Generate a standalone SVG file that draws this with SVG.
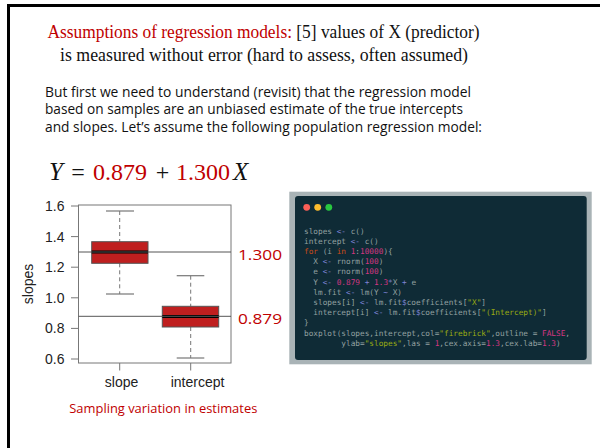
<svg xmlns="http://www.w3.org/2000/svg" width="600" height="448" viewBox="0 0 600 448">
<style>
.ttl{font-family:"Liberation Serif",serif;font-size:18px;fill:#111}
.par{font-family:"Open Sans","Liberation Sans",sans-serif;font-size:14.3px;fill:#111}
.eq{font-family:"Liberation Serif",serif;font-size:24px;fill:#111}
.eqi{font-family:"Liberation Serif",serif;font-style:italic;font-size:25px;fill:#111}
.ax{font-family:"Liberation Sans",Arial,sans-serif;font-size:14px;fill:#222}
.lab{font-family:"Open Sans","Liberation Sans",sans-serif;font-size:15px;fill:#c00000}
.cap{font-family:"Open Sans","Liberation Sans",sans-serif;font-size:12.4px;fill:#c00000}
.red{fill:#c00000}
.axl{stroke:#777;stroke-width:1;fill:none}
.box{fill:#bf1f1f;stroke:#555;stroke-width:1}
.med{stroke:#000;stroke-width:3}
.wh{stroke:#777;stroke-width:1;stroke-dasharray:4,3}
.capl{stroke:#777;stroke-width:1.2}
.ref{stroke:#555;stroke-width:1}
.code{font-family:"DejaVu Sans Mono","Liberation Mono",monospace;font-size:7.75px;fill:#93a1a1;white-space:pre}
.op{fill:#7f84d6}
.num{fill:#d33682}
.str{fill:#9aab12}
.kw{fill:#cb4b16}
</style>
<!-- page border -->
<path d="M8.5,448 V5.5 H600" fill="none" stroke="#000" stroke-width="3"/>

<g id="title">
<text class="ttl" x="263.5" y="38" text-anchor="middle" textLength="432" lengthAdjust="spacingAndGlyphs"><tspan class="red">Assumptions of regression models:</tspan> [5] values of X (predictor)</text>
<text class="ttl" x="264" y="61" text-anchor="middle" textLength="408" lengthAdjust="spacingAndGlyphs">is measured without error (hard to assess, often assumed)</text>
</g>

<g id="paragraph">
<text class="par" x="45" y="96.5" textLength="426" lengthAdjust="spacingAndGlyphs">But first we need to understand (revisit) that the regression model</text>
<text class="par" x="45" y="114.3" textLength="418" lengthAdjust="spacingAndGlyphs">based on samples are an unbiased estimate of the true intercepts</text>
<text class="par" x="45" y="132" textLength="437" lengthAdjust="spacingAndGlyphs">and slopes. Let’s assume the following population regression model:</text>
</g>

<g id="equation">
<text class="eqi" x="49" y="179.5">Y</text>
<text class="eq" x="78" y="179.5" text-anchor="middle">=</text>
<text class="eq red" x="93" y="179.5">0.879</text>
<text class="eq" x="162.5" y="179.5" text-anchor="middle">+</text>
<text class="eq red" x="176" y="179.5">1.300</text>
<text class="eqi" x="233" y="179.5">X</text>
</g>

<g id="boxplot">
<rect class="axl" x="78.5" y="205" width="152.5" height="158"/>
<g class="axl">
<line x1="71" y1="206" x2="78.5" y2="206"/>
<line x1="71" y1="236.6" x2="78.5" y2="236.6"/>
<line x1="71" y1="267.2" x2="78.5" y2="267.2"/>
<line x1="71" y1="297.8" x2="78.5" y2="297.8"/>
<line x1="71" y1="328.4" x2="78.5" y2="328.4"/>
<line x1="71" y1="359" x2="78.5" y2="359"/>
<line x1="119.7" y1="363" x2="119.7" y2="370.5"/>
<line x1="190.7" y1="363" x2="190.7" y2="370.5"/>
</g>
<g class="ax" text-anchor="end">
<text x="64.5" y="211">1.6</text>
<text x="64.5" y="241.6">1.4</text>
<text x="64.5" y="272.2">1.2</text>
<text x="64.5" y="302.8">1.0</text>
<text x="64.5" y="333.4">0.8</text>
<text x="64.5" y="364">0.6</text>
</g>
<text class="ax" x="121.5" y="387" text-anchor="middle">slope</text>
<text class="ax" x="197.5" y="387" text-anchor="middle">intercept</text>
<text class="ax" transform="translate(32.5,284) rotate(-90)" text-anchor="middle">slopes</text>

<line class="wh" x1="119.7" y1="211" x2="119.7" y2="241.7"/>
<line class="wh" x1="119.7" y1="263.3" x2="119.7" y2="294"/>
<line class="capl" x1="106" y1="211" x2="134" y2="211"/>
<line class="capl" x1="106" y1="294" x2="134" y2="294"/>
<rect class="box" x="91.7" y="241.7" width="56.3" height="21.6"/>
<line class="med" x1="91.7" y1="252" x2="148" y2="252"/>

<line class="wh" x1="190.7" y1="275.7" x2="190.7" y2="306.3"/>
<line class="wh" x1="190.7" y1="327" x2="190.7" y2="358"/>
<line class="capl" x1="176.7" y1="275.7" x2="204.3" y2="275.7"/>
<line class="capl" x1="176.7" y1="358" x2="204.3" y2="358"/>
<rect class="box" x="162.3" y="306.3" width="56.4" height="20.7"/>
<line class="med" x1="162.3" y1="316.5" x2="218.7" y2="316.5"/>

<line class="ref" x1="78.5" y1="252" x2="231" y2="252"/>
<line class="ref" x1="78.5" y1="316.3" x2="231" y2="316.3"/>
<text class="lab" x="238" y="260" textLength="44" lengthAdjust="spacingAndGlyphs">1.300</text>
<text class="lab" x="238" y="324" textLength="44" lengthAdjust="spacingAndGlyphs">0.879</text>
</g>

<g id="caption">
<text class="cap" x="69.3" y="413" textLength="188" lengthAdjust="spacingAndGlyphs">Sampling variation in estimates</text>
</g>

<g id="code-panel">
<rect x="289.3" y="191.7" width="302.4" height="172.6" fill="#a9b3b6"/>
<rect x="295" y="196" width="291.7" height="164" rx="3" fill="#0f2b36"/>
<circle cx="306.7" cy="207.3" r="3.4" fill="#fc5f57"/>
<circle cx="317.7" cy="207.3" r="3.4" fill="#fdbc2e"/>
<circle cx="328.8" cy="207.3" r="3.4" fill="#29c840"/>
<g class="code">
<text x="304" y="233.5" xml:space="preserve">slopes <tspan class="op">&lt;-</tspan> c()</text>
<text x="304" y="243.7" xml:space="preserve">intercept <tspan class="op">&lt;-</tspan> c()</text>
<text x="304" y="253.9" xml:space="preserve"><tspan class="kw">for</tspan> (i <tspan class="kw">in</tspan> <tspan class="num">1</tspan>:<tspan class="num">10000</tspan>){</text>
<text x="304" y="264.1" xml:space="preserve">  X <tspan class="op">&lt;-</tspan> rnorm(<tspan class="num">100</tspan>)</text>
<text x="304" y="274.3" xml:space="preserve">  e <tspan class="op">&lt;-</tspan> rnorm(<tspan class="num">100</tspan>)</text>
<text x="304" y="284.5" xml:space="preserve">  Y <tspan class="op">&lt;-</tspan> <tspan class="num">0.879</tspan> <tspan class="op">+</tspan> <tspan class="num">1.3</tspan><tspan class="op">*</tspan>X <tspan class="op">+</tspan> e</text>
<text x="304" y="294.7" xml:space="preserve">  lm.fit <tspan class="op">&lt;-</tspan> lm(Y <tspan class="op">~</tspan> X)</text>
<text x="304" y="304.9" xml:space="preserve">  slopes[i] <tspan class="op">&lt;-</tspan> lm.fit<tspan class="op">$</tspan>coefficients[<tspan class="str">"X"</tspan>]</text>
<text x="304" y="315.1" xml:space="preserve">  intercept[i] <tspan class="op">&lt;-</tspan> lm.fit<tspan class="op">$</tspan>coefficients[<tspan class="str">"(Intercept)"</tspan>]</text>
<text x="304" y="325.3">}</text>
<text x="304" y="335.5" xml:space="preserve">boxplot(slopes,intercept,col=<tspan class="str">"firebrick"</tspan>,outline = <tspan class="num">FALSE</tspan>,</text>
<text x="304" y="345.7" xml:space="preserve">        ylab=<tspan class="str">"slopes"</tspan>,las = <tspan class="num">1</tspan>,cex.axis=<tspan class="num">1.3</tspan>,cex.lab=<tspan class="num">1.3</tspan>)</text>
</g>
</g>
</svg>
